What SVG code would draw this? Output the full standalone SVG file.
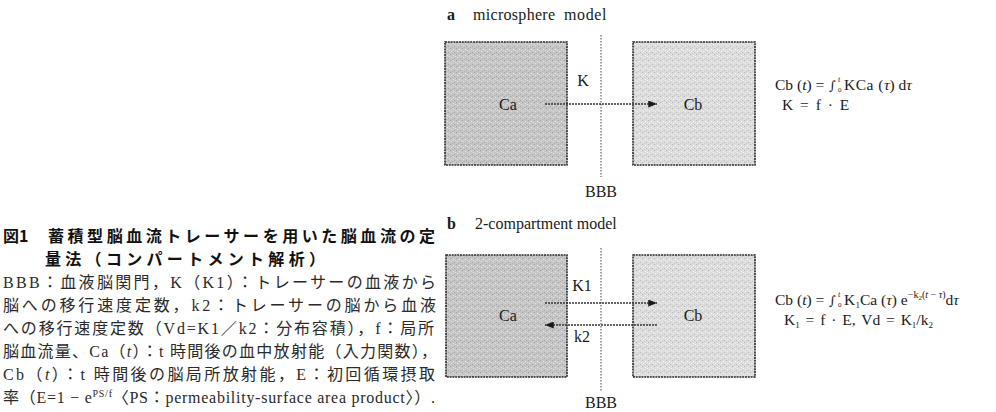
<svg xmlns="http://www.w3.org/2000/svg" width="996" height="412" viewBox="0 0 996 412">
<defs>
<style>
.t{font-family:"Liberation Serif","Noto Sans CJK JP",serif;fill:#1a1a1a}
.cap{font-family:"Liberation Serif","Noto Sans CJK JP",serif;font-size:16px;fill:#2a2a2a}
.ttl{font-family:"Noto Sans CJK JP","Liberation Sans",sans-serif;font-size:16px;font-weight:bold;fill:#111}
.hd{font-size:16px}
.lbl{font-size:16px}
.fm{font-size:15.5px}
.int{font-family:"DejaVu Serif",serif;font-size:13px}
.box{stroke:#2a2a2a;stroke-width:1.6;stroke-dasharray:2 0.8}
.bbb{stroke:#666;stroke-width:1.2;stroke-dasharray:1.5 1.5;fill:none}
.arr{stroke:#333;stroke-width:1.3;stroke-dasharray:2 1;fill:none}
</style>
<pattern id="stipDark" width="6" height="6" patternUnits="userSpaceOnUse">
<rect width="6" height="6" fill="#c6c6c6"/>
<rect x="0" y="0" width="1" height="1" fill="#9c9c9c"/>
<rect x="3" y="1" width="1" height="1" fill="#e6e6e6"/>
<rect x="1" y="3" width="1" height="1" fill="#e0e0e0"/>
<rect x="4" y="4" width="1" height="1" fill="#a4a4a4"/>
<rect x="2" y="5" width="1" height="1" fill="#b0b0b0"/>
<rect x="5" y="2" width="1" height="1" fill="#dadada"/>
</pattern>
<pattern id="stipLight" width="6" height="6" patternUnits="userSpaceOnUse">
<rect width="6" height="6" fill="#dddddd"/>
<rect x="0" y="0" width="1" height="1" fill="#b4b4b4"/>
<rect x="3" y="1" width="1" height="1" fill="#f4f4f4"/>
<rect x="1" y="3" width="1" height="1" fill="#f0f0f0"/>
<rect x="4" y="4" width="1" height="1" fill="#bcbcbc"/>
<rect x="2" y="5" width="1" height="1" fill="#c8c8c8"/>
<rect x="5" y="2" width="1" height="1" fill="#eeeeee"/>
</pattern>
<marker id="ah" viewBox="0 0 10 8" refX="10" refY="4" markerWidth="10" markerHeight="7" markerUnits="userSpaceOnUse" orient="auto">
<path d="M0,0 L10,4 L0,8 z" fill="#1a1a1a"/>
</marker>
</defs>
<rect width="996" height="412" fill="#ffffff"/>

<g id="caption">
<text class="ttl" x="3" y="242">図1</text>
<text class="ttl" x="48" y="242" textLength="387" lengthAdjust="spacing">蓄積型脳血流トレーサーを用いた脳血流の定</text>
<text class="ttl" x="45" y="265" textLength="280" lengthAdjust="spacing">量法（コンパートメント解析）</text>
<text class="cap" x="3" y="288" textLength="433" lengthAdjust="spacing">BBB：血液脳関門，K（K1）：トレーサーの血液から</text>
<text class="cap" x="3" y="311" textLength="433" lengthAdjust="spacing">脳への移行速度定数，k2：トレーサーの脳から血液</text>
<text class="cap" x="3" y="334" textLength="431" lengthAdjust="spacing">への移行速度定数（Vd=K1／k2：分布容積），f：局所</text>
<text class="cap" x="3" y="357" textLength="434" lengthAdjust="spacing">脳血流量、Ca（<tspan font-style="italic">t</tspan>）：t 時間後の血中放射能（入力関数），</text>
<text class="cap" x="3" y="380" textLength="432" lengthAdjust="spacing">Cb（<tspan font-style="italic">t</tspan>）：t 時間後の脳局所放射能，E：初回循環摂取</text>
<text class="cap" x="3" y="403" textLength="432" lengthAdjust="spacing">率（E=1 − e<tspan font-size="10" dy="-6">PS/f</tspan><tspan dy="6">〈PS：permeability-surface area product〉）.</tspan></text>
</g>

<g id="panel-a">
<text class="t hd" x="447" y="20" font-weight="bold">a</text>
<text class="t hd" x="473" y="20" letter-spacing="0.3">microsphere</text>
<text class="t hd" x="564" y="20" letter-spacing="0.6">model</text>
</g>
<g id="a-Ca">
<rect class="box" x="445" y="42" width="122" height="123" fill="url(#stipDark)"/>
<text class="t lbl" x="508" y="110" text-anchor="middle">Ca</text>
</g>
<g id="a-Cb">
<rect class="box" x="633" y="42" width="122" height="123" fill="url(#stipLight)"/>
<text class="t lbl" x="693" y="110" text-anchor="middle">Cb</text>
</g>
<g id="a-BBB">
<line class="bbb" x1="601" y1="35" x2="601" y2="177"/>
<text class="t lbl" x="601" y="197" text-anchor="middle">BBB</text>
</g>
<g id="a-formula">
<text class="t fm" x="775" y="90">Cb (<tspan font-style="italic">t</tspan>) =<tspan class="int" x="829">∫</tspan><tspan x="838" dy="-8" font-size="8" font-style="italic">t</tspan><tspan x="838" dy="10" font-size="7">0</tspan><tspan x="844" dy="-2" letter-spacing="0.5">KCa (</tspan><tspan font-style="italic">τ</tspan>) d<tspan font-style="italic">τ</tspan></text>
<text class="t fm" x="782" y="110" word-spacing="3">K = f · E</text>
</g>

<g id="panel-b">
<text class="t hd" x="447" y="229" font-weight="bold">b</text>
<text class="t hd" x="475" y="229">2-compartment model</text>
</g>
<g id="b-Ca">
<rect class="box" x="446" y="255" width="121" height="122" fill="url(#stipDark)"/>
<text class="t lbl" x="508" y="321" text-anchor="middle">Ca</text>
</g>
<g id="b-Cb">
<rect class="box" x="633" y="255" width="122" height="122" fill="url(#stipLight)"/>
<text class="t lbl" x="693" y="321" text-anchor="middle">Cb</text>
</g>
<g id="b-BBB">
<line class="bbb" x1="601" y1="248" x2="601" y2="392"/>
<text class="t lbl" x="601" y="408" text-anchor="middle">BBB</text>
</g>
<g id="b-formula">
<text class="t fm" x="775" y="305">Cb (<tspan font-style="italic">t</tspan>) =<tspan class="int" x="829">∫</tspan><tspan x="838" dy="-8" font-size="8" font-style="italic">t</tspan><tspan x="838" dy="10" font-size="7">0</tspan><tspan x="844" dy="-2" letter-spacing="0.3">K</tspan><tspan font-size="9" dy="3">1</tspan><tspan dy="-3">Ca (</tspan><tspan font-style="italic">τ</tspan>) e<tspan font-size="10" dy="-7">−k</tspan><tspan font-size="7" dy="2">2</tspan><tspan font-size="10" dy="-2">(</tspan><tspan font-size="10" font-style="italic">t</tspan><tspan font-size="10"> − </tspan><tspan font-size="10" font-style="italic">τ</tspan><tspan font-size="10">)</tspan><tspan dy="7">d</tspan><tspan font-style="italic">τ</tspan></text>
<text class="t fm" x="784" y="325" word-spacing="2">K<tspan font-size="9" dy="3">1</tspan><tspan dy="-3"> = f · E,  Vd = K</tspan><tspan font-size="9" dy="3">1</tspan><tspan dy="-3">/k</tspan><tspan font-size="9" dy="3">2</tspan></text>
</g>

<g id="connectors">
<line class="arr" x1="545" y1="104" x2="657" y2="104" marker-end="url(#ah)"/>
<text class="t lbl" x="583" y="86" text-anchor="middle">K</text>
<line class="arr" x1="545" y1="303" x2="657" y2="303" marker-end="url(#ah)"/>
<text class="t lbl" x="582" y="291" text-anchor="middle">K1</text>
<line class="arr" x1="657" y1="325" x2="545" y2="325" marker-end="url(#ah)"/>
<text class="t lbl" x="582" y="342" text-anchor="middle">k2</text>
</g>
</svg>
